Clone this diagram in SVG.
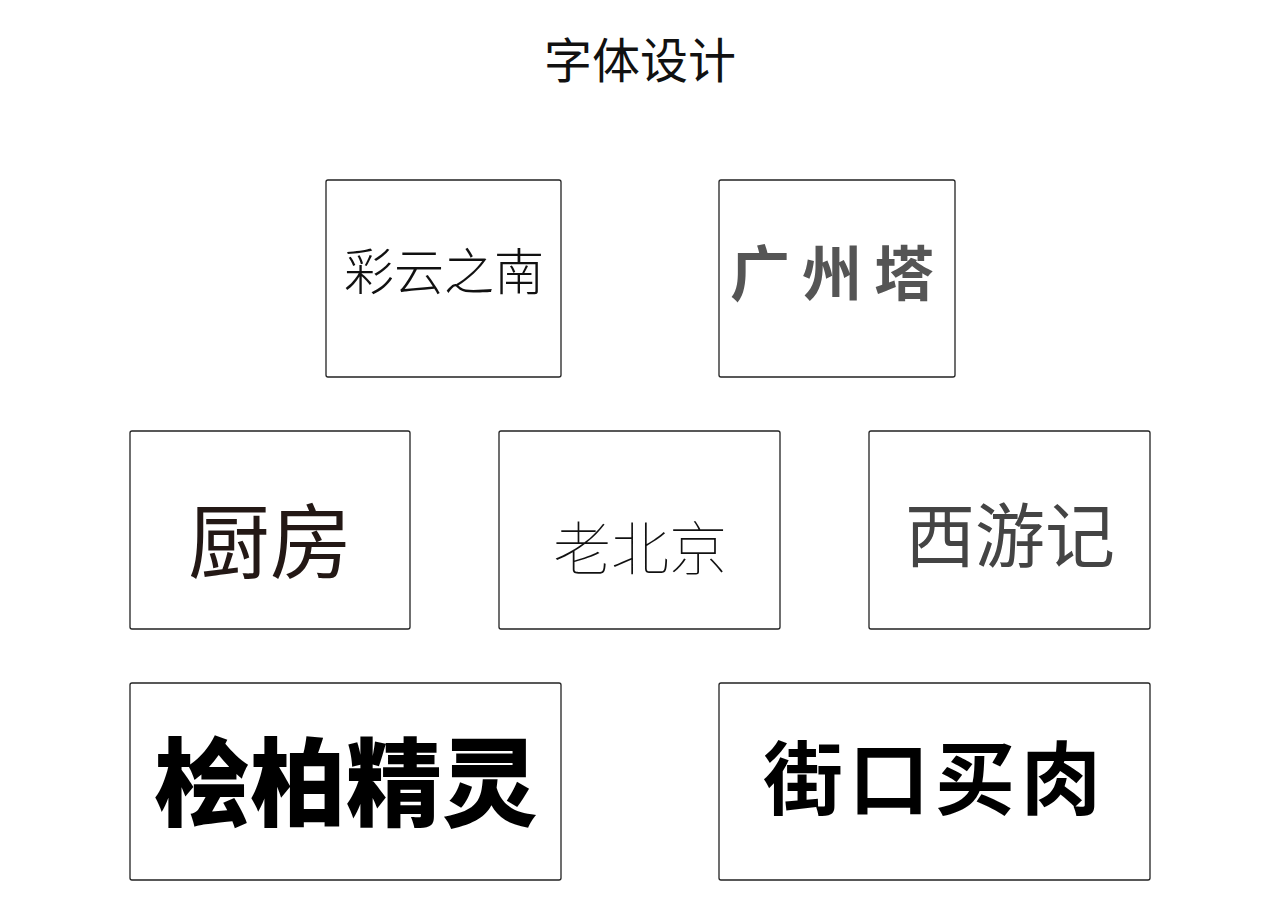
<svg xmlns="http://www.w3.org/2000/svg" width="1280" height="905" viewBox="0 0 1280 905">
<style>
.box{fill:#fff;stroke:#222;stroke-width:1.3}
text{font-family:"Liberation Sans","Noto Sans CJK SC",sans-serif;text-anchor:middle}
</style>
<rect width="1280" height="905" fill="#fff"/>
<text x="640" y="78" font-size="48" fill="#111">字体设计</text>
<g id="n1"><rect class="box" x="326" y="180" width="235" height="197" rx="2"/><text x="444" y="290" font-size="50" font-weight="300" fill="#111">彩云之南</text></g>
<g id="n2"><rect class="box" x="719" y="180" width="236" height="197" rx="2"/><text x="838" y="296" font-size="60" font-weight="bold" fill="#555" letter-spacing="12">广州塔</text></g>
<g id="n3"><rect class="box" x="130" y="431" width="280" height="198" rx="2"/><text x="270" y="572" font-size="82" fill="#231815">厨房</text></g>
<g id="n4"><rect class="box" x="499" y="431" width="281" height="198" rx="2"/><text x="640" y="570" font-size="58" font-weight="100" fill="#111">老北京</text></g>
<g id="n5"><rect class="box" x="869" y="431" width="281" height="198" rx="2"/><text x="1010" y="562" font-size="70" fill="#444">西游记</text></g>
<g id="n6"><rect class="box" x="130" y="683" width="431" height="197" rx="2"/><text x="346" y="818" font-size="96" font-weight="900" fill="#000">桧柏精灵</text></g>
<g id="n7"><rect class="box" x="719" y="683" width="431" height="197" rx="2"/><text x="935" y="808" font-size="80" font-weight="bold" fill="#000" letter-spacing="6">街口买肉</text></g>
<g id="connectors"/>
</svg>
